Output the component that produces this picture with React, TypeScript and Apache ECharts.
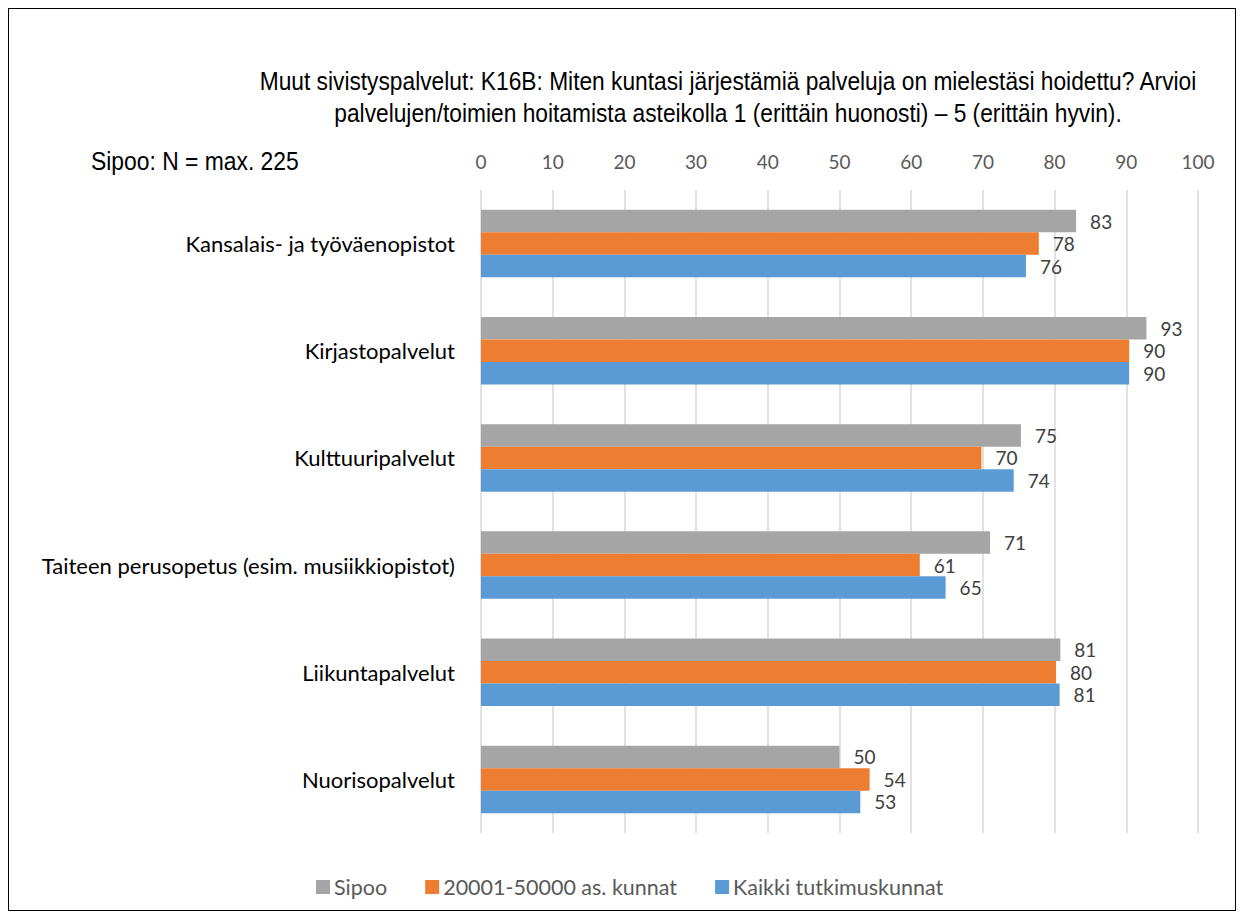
import React, { useEffect, useRef } from "react";
import * as echarts from "echarts";

const categories = [
  "Kansalais- ja työväenopistot",
  "Kirjastopalvelut",
  "Kulttuuripalvelut",
  "Taiteen perusopetus (esim. musiikkiopistot)",
  "Liikuntapalvelut",
  "Nuorisopalvelut",
];
const seriesNames = ["Sipoo", "20001-50000 as. kunnat", "Kaikki tutkimuskunnat"];
const sipoo = [83, 92.8, 75.3, 71, 80.8, 50];
const kunnat = [77.8, 90.4, 69.8, 61.2, 80.2, 54.2];
const kaikki = [76, 90.4, 74.3, 64.8, 80.7, 52.9];
const colors = ["#A5A5A5", "#ED7D31", "#5B9BD5"];
const titleLine1 =
  "Muut sivistyspalvelut: K16B: Miten kuntasi järjestämiä palveluja on mielestäsi hoidettu? Arvioi";
const titleLine2 =
  "palvelujen/toimien hoitamista asteikolla 1 (erittäin huonosti) – 5 (erittäin hyvin).";
const noteText = "Sipoo: N = max. 225";

const sans = "'Liberation Sans', Arial, sans-serif";
const body = "Lato, 'Open Sans', sans-serif";

export default function App() {
  const ref = useRef<HTMLDivElement>(null);
  useEffect(() => {
    if (!ref.current) return;
    const chart = echarts.init(ref.current, null, { renderer: "svg" });
    const data = [sipoo, kunnat, kaikki];
    chart.setOption({
      animation: false,
      graphic: [
        {
          type: "text",
          x: 719,
          y: 72,
          scaleX: 0.91,
          style: {
            text: titleLine1,
            fontFamily: sans,
            fontSize: 25,
            fill: "#000",
            textAlign: "center",
            textVerticalAlign: "middle",
          },
        },
        {
          type: "text",
          x: 719,
          y: 104,
          scaleX: 0.91,
          style: {
            text: titleLine2,
            fontFamily: sans,
            fontSize: 25,
            fill: "#000",
            textAlign: "center",
            textVerticalAlign: "middle",
          },
        },
        {
          type: "text",
          x: 82,
          y: 152,
          scaleX: 0.88,
          style: {
            text: noteText,
            fontFamily: sans,
            fontSize: 26,
            fill: "#000",
            textAlign: "left",
            textVerticalAlign: "middle",
          },
        },
      ],
      legend: {
        data: seriesNames,
        left: 302,
        top: 862,
        itemWidth: 14,
        itemHeight: 14,
        itemGap: 38,
        icon: "rect",
        textStyle: { fontFamily: body, fontSize: 21.5, color: "#595959", padding: [0, 0, 0, -1] },
      },
      grid: { left: 472, right: 37, top: 181, bottom: 77, containLabel: false },
      xAxis: {
        type: "value",
        position: "top",
        min: 0,
        max: 100,
        interval: 10,
        axisLine: { show: false },
        axisTick: { show: false },
        axisLabel: { margin: 19, fontFamily: body, fontSize: 19, color: "#595959" },
        splitLine: { show: true, lineStyle: { color: "#D9D9D9", width: 1.5 } },
      },
      yAxis: {
        type: "category",
        data: categories,
        inverse: true,
        axisLine: { show: false },
        axisTick: { show: false },
        axisLabel: { margin: 26, fontFamily: body, fontSize: 22, color: "#000" },
      },
      series: seriesNames.map((name, i) => ({
        name,
        type: "bar",
        data: data[i],
        itemStyle: { color: colors[i] },
        barGap: "0%",
        barCategoryGap: "37%",
        label: {
          show: true,
          position: "right",
          distance: 14,
          fontFamily: body,
          fontSize: 19,
          color: "#404040",
          formatter: (p: any) => String(Math.round(p.value)),
        },
      })),
    });
    return () => chart.dispose();
  }, []);
  return (
    <div
      ref={ref}
      style={{
        width: 1228,
        height: 903,
        border: "1.5px solid #000",
        boxSizing: "border-box",
      }}
    />
  );
}
